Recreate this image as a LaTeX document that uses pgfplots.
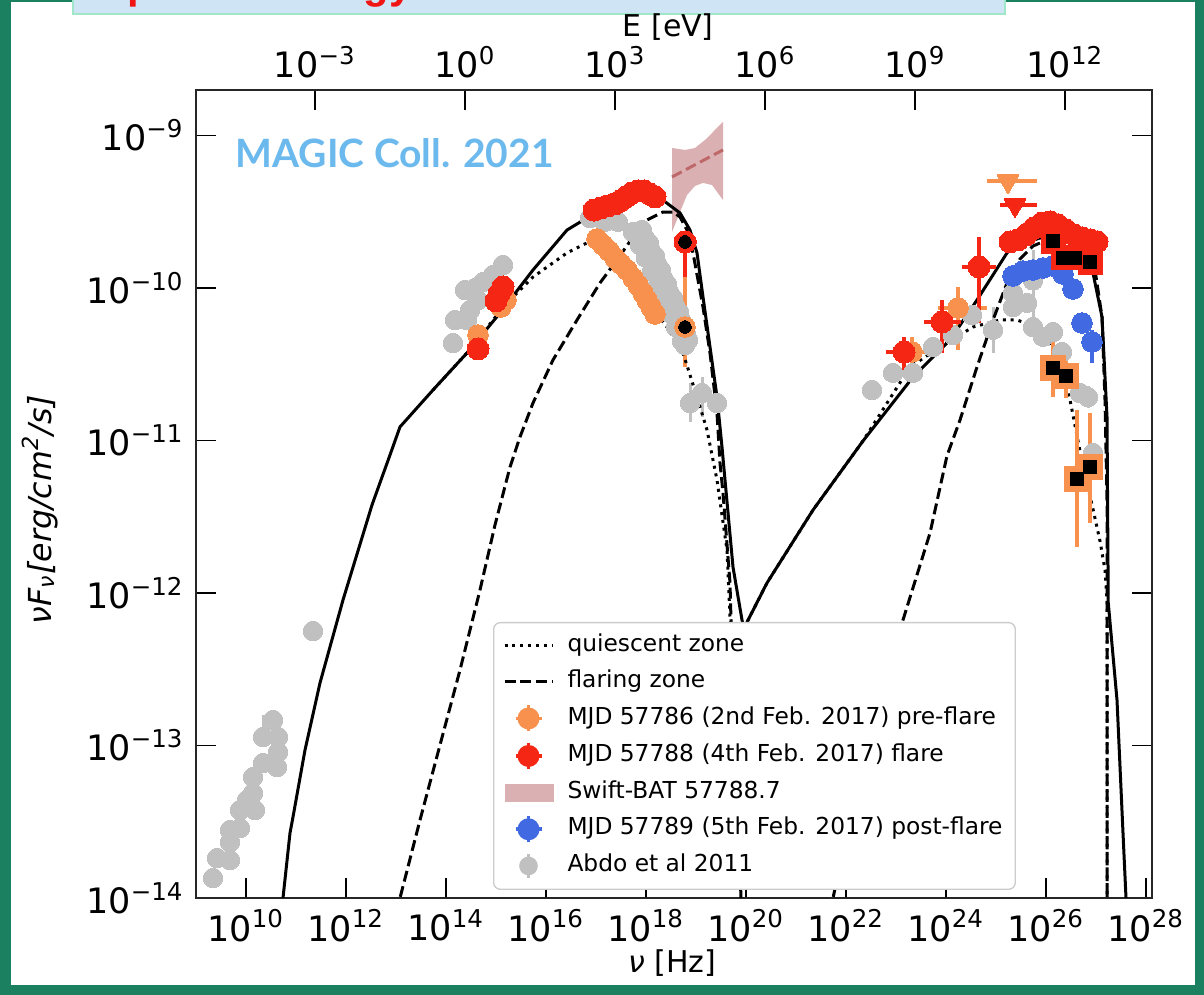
\documentclass[border=0pt]{standalone}
\usepackage{pgfplots}
\pgfplotsset{compat=1.18}
\usepackage{pgfplotstable}
\usepackage{fontspec}
\setmainfont{DejaVu Sans}
\newfontfamily\magicfont{Lato}
\newfontfamily\titlefont{Liberation Sans}

\definecolor{cor}{RGB}{247,145,77}
\definecolor{cred}{RGB}{245,38,20}
\definecolor{cblue}{RGB}{65,105,225}
\definecolor{cgray}{RGB}{192,192,192}
\definecolor{cbat}{RGB}{219,176,178}
\definecolor{cbatline}{RGB}{190,105,105}
\definecolor{cgreen}{RGB}{27,128,96}
\definecolor{cmagic}{RGB}{108,185,238}
\definecolor{cbox}{RGB}{207,229,246}
\definecolor{cboxedge}{RGB}{160,230,200}
\definecolor{ctitle}{RGB}{240,20,20}

% all values: log10(nu/Hz), log10(nuFnu / erg cm^-2 s^-1)
\pgfplotstableread{
x y
9.34 -13.869
9.42 -13.738
9.68 -13.751
9.68 -13.633
9.68 -13.554
9.88 -13.541
9.88 -13.423
10.02 -13.357
10.18 -13.423
10.14 -13.311
10.14 -13.207
10.34 -13.115
10.54 -12.833
10.64 -12.944
10.64 -13.043
10.62 -13.141
11.34 -12.249
14.14 -10.361
14.18 -10.210
14.42 -10.210
14.48 -10.144
14.38 -10.013
14.64 -10.079
14.58 -10.000
14.74 -9.961
14.94 -9.915
15.14 -9.849
16.88 -9.541
17.18 -9.567
17.44 -9.567
17.74 -9.633
17.88 -9.718
18.00 -9.803
18.12 -9.889
18.24 -9.980
18.36 -10.072
18.48 -10.164
18.60 -10.256
18.72 -10.348
17.92 -9.620
18.06 -9.705
18.18 -9.790
18.30 -9.882
18.42 -9.974
18.54 -10.066
18.66 -10.157
18.76 -10.249
18.84 -10.341
17.98 -9.672
18.10 -9.757
18.22 -9.843
18.34 -9.934
18.46 -10.026
18.58 -10.118
18.70 -10.210
18.80 -10.302
18.78 -10.374
22.52 -10.669
22.94 -10.557
23.34 -10.557
23.74 -10.387
24.14 -10.308
24.52 -10.177
25.34 -10.033
25.34 -10.125
25.62 -10.098
25.74 -10.256
25.94 -10.321
26.14 -10.289
26.32 -10.420
26.68 -10.689
26.94 -11.082
}\grayA

\pgfplotstableread{
x y eym eyp
10.34 -12.944 0.03 0.144
18.88 -10.754 0.125 0.131
19.12 -10.689 0.157 0.105
19.42 -10.754 0.05 0.05
24.94 -10.275 0.15 0.15
25.74 -9.951 0.243 0.197
26.84 -10.715 0.07 0.07
}\grayE

\pgfplotstableread{
x y
14.64 -10.308
15.10 -10.125
15.20 -10.079
17.02 -9.679
17.14 -9.718
17.26 -9.757
17.38 -9.803
17.50 -9.843
17.62 -9.882
17.74 -9.934
17.84 -9.980
17.94 -10.033
18.02 -10.079
18.10 -10.125
18.18 -10.170
}\orA

\pgfplotstableread{
x y exm exp eym eyp
18.78 -10.256 0.20 0.20 0.262 0.354
23.32 -10.420 0.30 0.30 0.10 0.10
24.24 -10.131 0.40 0.58 0.276 0.138
}\orE

\pgfplotstableread{
x y exm exp
25.24 -9.300 0.42 0.58
}\orUL

\pgfplotstableread{
x y exm exp eym eyp
26.14 -10.525 0 0 0.190 0.184
26.40 -10.577 0 0 0.144 0.125
26.62 -11.252 0 0 0.446 0.452
26.88 -11.174 0 0 0.367 0.354
}\orSq

\pgfplotstableread{
x y
14.64 -10.400
15.00 -10.085
15.06 -10.039
15.14 -9.993
16.96 -9.489
17.10 -9.475
17.24 -9.462
17.38 -9.449
17.48 -9.430
17.60 -9.403
17.72 -9.377
17.84 -9.364
17.96 -9.364
18.08 -9.384
18.18 -9.403
25.28 -9.698
25.44 -9.685
25.60 -9.652
25.76 -9.607
25.92 -9.574
26.08 -9.567
26.24 -9.587
26.40 -9.620
26.56 -9.652
26.72 -9.672
26.88 -9.685
27.02 -9.698
}\redA

\pgfplotstableread{
x y exm exp eym eyp
18.78 -9.698 0.20 0.24 0.23 0.066
23.16 -10.420 0.36 0.36 0.118 0.099
23.92 -10.223 0.37 0.37 0.203 0.144
24.66 -9.862 0.34 0.34 0.367 0.197
}\redE

\pgfplotstableread{
x y exm exp
25.38 -9.456 0.30 0.44
}\redUL

\pgfplotstableread{
x y
26.14 -9.692
26.34 -9.803
26.58 -9.803
26.88 -9.830
}\redSq

\pgfplotstableread{
x y eym eyp
25.34 -9.921 0 0
25.54 -9.889 0 0
25.74 -9.882 0 0
25.94 -9.869 0 0
26.14 -9.856 0 0
26.34 -9.908 0 0
26.54 -10.007 0 0
26.72 -10.230 0 0
26.92 -10.354 0.138 0.079
}\blueA

\pgfplotstableread{
x y
10.70 -14.20
10.74 -14.00
10.88 -13.574
10.94 -13.469
11.18 -13.030
11.48 -12.590
11.94 -12.046
12.52 -11.423
12.88 -11.095
13.08 -10.911
13.74 -10.669
14.42 -10.426
15.08 -10.164
15.74 -9.882
16.42 -9.620
17.08 -9.489
17.68 -9.423
18.28 -9.410
18.68 -9.508
18.88 -9.620
19.02 -9.770
19.14 -10.059
19.28 -10.387
19.42 -10.715
19.52 -11.043
19.58 -11.259
19.74 -11.830
19.92 -12.177
19.96 -12.230
20.42 -11.934
21.34 -11.456
22.34 -11.003
23.34 -10.584
24.08 -10.341
24.62 -10.079
25.22 -9.770
25.34 -9.731
25.88 -9.672
26.48 -9.685
26.88 -9.816
26.94 -9.902
27.12 -10.190
27.22 -10.846
27.24 -11.830
27.24 -12.046
27.42 -12.702
27.54 -13.574
27.60 -14.00
27.62 -14.20
}\solid

\pgfplotstableread{
x y
13.74 -10.669
14.42 -10.426
15.18 -10.111
15.74 -9.928
16.42 -9.770
16.94 -9.685
17.10 -9.700
17.34 -9.797
17.74 -9.928
18.14 -10.144
18.42 -10.256
18.74 -10.426
19.02 -10.715
19.22 -10.931
19.42 -11.259
19.62 -11.718
19.68 -12.157
19.76 -12.600
}\dotA

\pgfplotstableread{
x y
19.96 -12.230
20.42 -11.934
21.34 -11.456
22.34 -11.003
23.28 -10.518
23.88 -10.387
24.54 -10.256
25.08 -10.210
25.42 -10.210
25.82 -10.256
26.08 -10.361
26.28 -10.518
26.48 -10.734
26.74 -11.170
26.94 -11.450
27.08 -11.660
27.18 -11.850
27.22 -12.046
27.22 -14.20
}\dotB

\pgfplotstableread{
x y
13.06 -14.20
13.08 -14.00
13.48 -13.489
13.88 -12.997
14.28 -12.505
14.68 -11.980
14.98 -11.554
15.28 -11.174
15.48 -10.977
15.74 -10.754
16.14 -10.472
16.62 -10.210
17.08 -9.967
17.42 -9.816
17.74 -9.666
18.02 -9.554
18.34 -9.502
18.54 -9.502
18.68 -9.534
18.82 -9.620
18.94 -9.770
19.14 -10.125
19.28 -10.426
19.42 -10.820
19.48 -11.148
19.54 -11.344
19.68 -11.934
19.70 -12.177
19.90 -14.00
19.92 -14.20
}\dashA

\pgfplotstableread{
x y
21.70 -14.20
21.74 -14.00
21.88 -13.790
22.48 -13.000
23.14 -12.177
23.68 -11.607
24.02 -11.100
24.28 -10.866
24.62 -10.518
24.94 -10.210
25.22 -9.967
25.48 -9.810
25.74 -9.725
26.02 -9.685
26.32 -9.685
26.68 -9.738
26.98 -9.882
27.12 -10.190
27.18 -10.734
27.22 -11.390
27.22 -14.20
}\dashB

\pgfplotstableread{
x y
18.52 -9.082
18.78 -9.095
18.98 -9.082
19.18 -9.030
19.38 -8.964
19.54 -8.911
19.54 -9.423
19.32 -9.325
19.14 -9.311
18.98 -9.331
18.82 -9.390
18.68 -9.502
18.52 -9.633
}\bat

\pgfplotstableread{
x y
18.52 -9.272
19.54 -9.095
}\batline

\begin{document}
\begin{tikzpicture}[x=1pt,y=1pt]
\useasboundingbox (0,0) rectangle (361.2,298.5);
% slide frame
\fill[cgreen] (0,0) rectangle (361.2,298.5);
\fill[white] (3.3,3.0) rectangle (358.5,297.9);
\begin{scope}
\clip (0,0) rectangle (361.2,298.5);
\fill[cbox,draw=cboxedge,line width=0.6pt] (21.9,294.3) rectangle (301.5,300);
\node[anchor=base west,inner sep=0pt,text=ctitle,font=\titlefont\bfseries\fontsize{12.5}{14}\selectfont] at (29.7,298.9) {Spectral energy distribution};
\end{scope}

\pgfplotsset{
  dotsty/.style={black,line width=0.9pt,dash pattern=on 0.9pt off 1.45pt},
  dashsty/.style={black,line width=0.9pt,dash pattern=on 3.3pt off 1.45pt},
}

\begin{axis}[
  at={(58.8pt,29.1pt)}, anchor=south west,
  scale only axis, width=286.8pt, height=242.4pt,
  xmin=9, xmax=28.12, ymin=-14, ymax=-8.7016,
  xtick={10,12,...,28},
  xticklabels={10\textsuperscript{10},10\textsuperscript{12},10\textsuperscript{14},10\textsuperscript{16},10\textsuperscript{18},10\textsuperscript{20},10\textsuperscript{22},10\textsuperscript{24},10\textsuperscript{26},10\textsuperscript{28}},
  ytick={-14,-13,-12,-11,-10,-9},
  yticklabels={10\textsuperscript{−14},10\textsuperscript{−13},10\textsuperscript{−12},10\textsuperscript{−11},10\textsuperscript{−10},10\textsuperscript{−9}},
  xtick pos=bottom, ytick pos=both, yticklabel pos=left,
  tick align=inside, major tick length=6pt,
  tick style={line width=0.45pt,black},
  axis line style={line width=0.6pt,black!85},
  tick label style={font=\fontsize{10.5}{12}\selectfont},
  every axis x label/.style={at={(axis description cs:0.498,-0.0804)},anchor=center},
  every axis y label/.style={at={(axis description cs:-0.163,0.48)},rotate=90,anchor=center},
  xlabel={\fontsize{9}{11}\selectfont\textit{ν} [Hz]},
  ylabel={\fontsize{9.5}{11}\selectfont\itshape νF\textsubscript{ν}[erg/cm\textsuperscript{2}/s]},
  clip=true,
  legend cell align=left,
  legend style={at={(axis cs:14.94,-12.19)}, anchor=north west,
    draw=black!20, rounded corners=2pt, fill=white, line width=0.4pt,
    font=\fontsize{7}{8}\selectfont, inner sep=2.8pt,
    nodes={inner sep=1pt, text height=4.9pt, text depth=1.5pt},
    row sep=2.35pt, column sep=3pt},
  error bars/error mark=none,
]
% Swift-BAT bow tie
\addplot[forget plot, fill=cbat, draw=none] table[x=x,y=y] {\bat} -- cycle;
\addplot[forget plot, cbatline, line width=0.9pt, dash pattern=on 3.3pt off 1.45pt] table[x=x,y=y] {\batline};
% Abdo et al 2011
\addplot[forget plot, only marks, mark=*, mark size=2.9pt, mark options={cgray,fill=cgray,line width=0pt}] table[x=x,y=y] {\grayA};
\addplot[forget plot, only marks, mark=*, mark size=2.9pt, mark options={cgray,fill=cgray,line width=0pt},
  error bars/.cd, y dir=both, y explicit, error bar style={cgray,line width=0.9pt}]
  table[x=x,y=y,y error plus=eyp,y error minus=eym] {\grayE};
% pre-flare
\addplot[forget plot, only marks, mark=*, mark size=3.1pt, mark options={cor,fill=cor,line width=0pt}] table[x=x,y=y] {\orA};
\addplot[forget plot, only marks, mark=*, mark size=3.1pt, mark options={cor,fill=cor,line width=0pt},
  error bars/.cd, x dir=both, x explicit, y dir=both, y explicit, error bar style={cor,line width=1.1pt}]
  table[x=x,y=y,x error plus=exp,x error minus=exm,y error plus=eyp,y error minus=eym] {\orE};
% post-flare
\addplot[forget plot, only marks, mark=*, mark size=3.1pt, mark options={cblue,fill=cblue,line width=0pt},
  error bars/.cd, y dir=both, y explicit, error bar style={cblue,line width=1.1pt}]
  table[x=x,y=y,y error plus=eyp,y error minus=eym] {\blueA};
% models
\addplot[forget plot, black, line width=0.9pt] table[x=x,y=y] {\solid};
\addplot[forget plot, dotsty] table[x=x,y=y] {\dotA};
\addplot[forget plot, dotsty] table[x=x,y=y] {\dotB};
\addplot[forget plot, dashsty] table[x=x,y=y] {\dashA};
\addplot[forget plot, dashsty] table[x=x,y=y] {\dashB};
% flare
\addplot[forget plot, only marks, mark=*, mark size=3.3pt, mark options={cred,fill=cred,line width=0pt}] table[x=x,y=y] {\redA};
\addplot[forget plot, only marks, mark=*, mark size=3.3pt, mark options={cred,fill=cred,line width=0pt},
  error bars/.cd, x dir=both, x explicit, y dir=both, y explicit, error bar style={cred,line width=1.1pt}]
  table[x=x,y=y,x error plus=exp,x error minus=exm,y error plus=eyp,y error minus=eym] {\redE};
% upper limits
\addplot[forget plot, only marks, mark=triangle*, mark size=3.8pt, mark options={cor,fill=cor,line width=0pt,rotate=180},
  error bars/.cd, x dir=both, x explicit, error bar style={cor,line width=1.1pt}]
  table[x=x,y=y,x error plus=exp,x error minus=exm] {\orUL};
\addplot[forget plot, only marks, mark=triangle*, mark size=3.8pt, mark options={cred,fill=cred,line width=0pt,rotate=180},
  error bars/.cd, x dir=both, x explicit, error bar style={cred,line width=1.1pt}]
  table[x=x,y=y,x error plus=exp,x error minus=exm] {\redUL};
% black centres of the two X-ray points
\addplot[forget plot, only marks, mark=*, mark size=1.9pt, mark options={black,fill=black,line width=0pt}]
  coordinates {(18.78,-10.256) (18.78,-9.698)};
% squares
\addplot[forget plot, only marks, mark=square*, mark size=3.6pt, mark options={cred,fill=cred,line width=0pt}] table[x=x,y=y] {\redSq};
\addplot[forget plot, only marks, mark=square*, mark size=3.7pt, mark options={cor,fill=cor,line width=0pt},
  error bars/.cd, y dir=both, y explicit, error bar style={cor,line width=1.1pt}]
  table[x=x,y=y,y error plus=eyp,y error minus=eym] {\orSq};
\addplot[forget plot, only marks, mark=square*, mark size=2.0pt, mark options={black,fill=black,line width=0pt}] table[x=x,y=y] {\redSq};
\addplot[forget plot, only marks, mark=square*, mark size=2.0pt, mark options={black,fill=black,line width=0pt}] table[x=x,y=y] {\orSq};

% legend
\addlegendimage{legend image code/.code={\coordinate (la) at (0pt,-3.9pt); \coordinate (lb) at (14.4pt,3.9pt);
  \draw[black,line width=0.9pt,dash pattern=on 0.9pt off 1.45pt,rounded corners=0pt] (0pt,0pt)--(14.4pt,0pt);}}
\addlegendentry{quiescent zone}
\addlegendimage{legend image code/.code={\coordinate (la) at (0pt,-3.9pt); \coordinate (lb) at (14.4pt,3.9pt);
  \draw[black,line width=0.9pt,dash pattern=on 3.3pt off 1.45pt,rounded corners=0pt] (0pt,0pt)--(14.4pt,0pt);}}
\addlegendentry{flaring zone}
\addlegendimage{legend image code/.code={\coordinate (la) at (0pt,-3.9pt); \coordinate (lb) at (14.4pt,3.9pt);
  \draw[cor,line width=1.1pt,rounded corners=0pt] (7.2pt,-3.9pt)--(7.2pt,3.9pt) (3.3pt,0pt)--(11.1pt,0pt);
  \fill[cor,draw=none] (7.2pt,0pt) circle (3.3pt);}}
\addlegendentry{MJD 57786 (2nd Feb. 2017) pre-flare}
\addlegendimage{legend image code/.code={\coordinate (la) at (0pt,-3.9pt); \coordinate (lb) at (14.4pt,3.9pt);
  \draw[cred,line width=1.1pt,rounded corners=0pt] (7.2pt,-3.9pt)--(7.2pt,3.9pt) (3.3pt,0pt)--(11.1pt,0pt);
  \fill[cred,draw=none] (7.2pt,0pt) circle (3.3pt);}}
\addlegendentry{MJD 57788 (4th Feb. 2017) flare}
\addlegendimage{legend image code/.code={\coordinate (la) at (0pt,-3.9pt); \coordinate (lb) at (14.4pt,3.9pt);
  \fill[cbat,draw=none,rounded corners=0pt] (0pt,-2.7pt) rectangle (14.9pt,2.7pt);}}
\addlegendentry{Swift-BAT 57788.7}
\addlegendimage{legend image code/.code={\coordinate (la) at (0pt,-3.9pt); \coordinate (lb) at (14.4pt,3.9pt);
  \draw[cblue,line width=1.1pt,rounded corners=0pt] (7.2pt,-3.9pt)--(7.2pt,3.9pt) (3.3pt,0pt)--(11.1pt,0pt);
  \fill[cblue,draw=none] (7.2pt,0pt) circle (3.3pt);}}
\addlegendentry{MJD 57789 (5th Feb. 2017) post-flare}
\addlegendimage{legend image code/.code={\coordinate (la) at (0pt,-3.9pt); \coordinate (lb) at (14.4pt,3.9pt);
  \draw[cgray,line width=0.9pt,rounded corners=0pt] (7.2pt,-3.6pt)--(7.2pt,3.6pt);
  \fill[cgray,draw=none] (7.2pt,0pt) circle (2.8pt);}}
\addlegendentry{Abdo et al 2011}
\end{axis}

% top axis: photon energy
\begin{axis}[
  at={(58.8pt,29.1pt)}, anchor=south west,
  scale only axis, width=286.8pt, height=242.4pt,
  xmin=-5.383, xmax=13.737, ymin=0, ymax=1,
  axis x line*=top, axis y line=none,
  xtick={-3,0,3,6,9,12},
  xticklabels={10\textsuperscript{−3},10\textsuperscript{0},10\textsuperscript{3},10\textsuperscript{6},10\textsuperscript{9},10\textsuperscript{12}},
  tick align=inside, major tick length=6pt,
  tick style={line width=0.45pt,black},
  axis line style={line width=0.6pt,black!85},
  tick label style={font=\fontsize{10.5}{12}\selectfont},
  every axis x label/.style={at={(axis description cs:0.494,1.078)},anchor=center},
  xlabel={\fontsize{9}{11}\selectfont E [eV]},
]
\end{axis}

\node[anchor=base west,inner sep=0pt,text=cmagic] at (70.5,248.1)
  {\resizebox{95.4pt}{!}{\magicfont\bfseries MAGIC Coll. 2021}};
\end{tikzpicture}
\end{document}
